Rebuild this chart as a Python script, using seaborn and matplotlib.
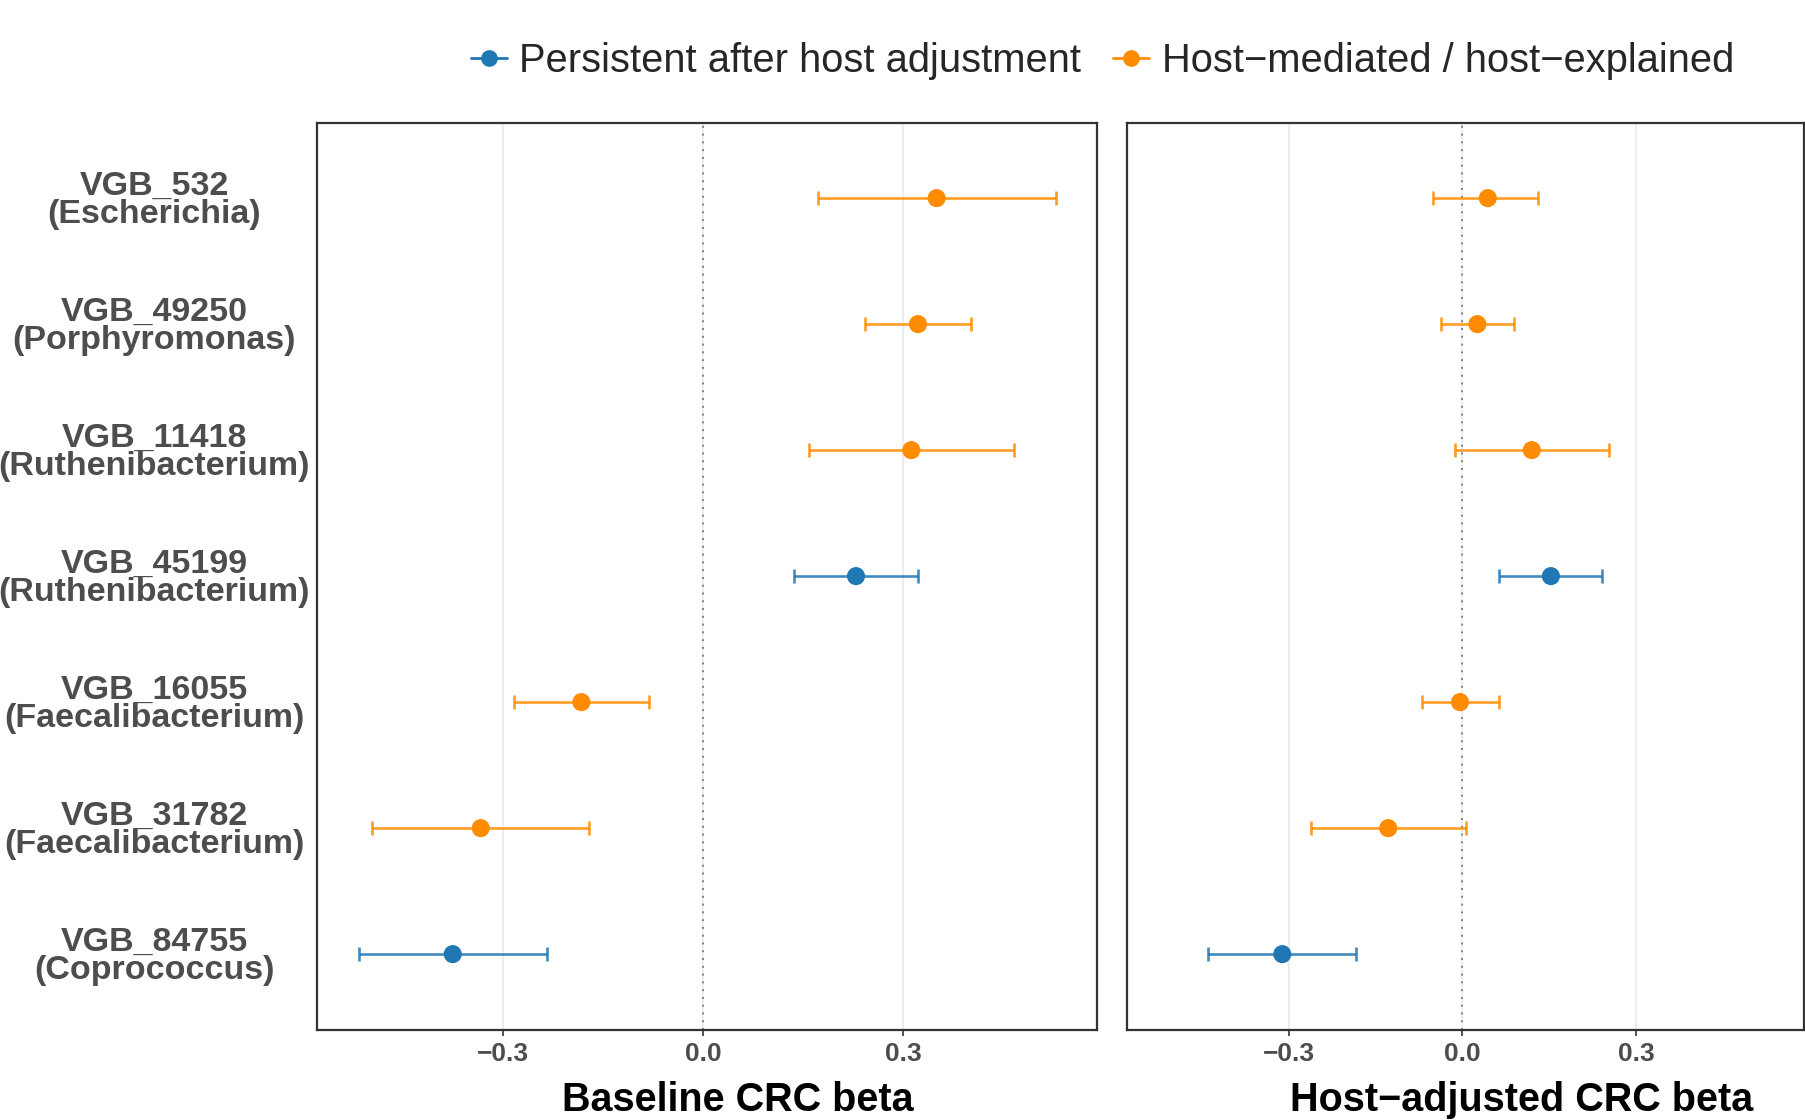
import numpy as np
import pandas as pd
import matplotlib
matplotlib.use("Agg")
import matplotlib.pyplot as plt
import seaborn as sns
from matplotlib.lines import Line2D

# ==============================================================
# DATA
# ==============================================================

vgb_ids = ["VGB_532", "VGB_49250", "VGB_11418", "VGB_45199",
           "VGB_16055", "VGB_31782", "VGB_84755"]
genera = ["Escherichia", "Porphyromonas", "Ruthenibacterium", "Ruthenibacterium",
          "Faecalibacterium", "Faecalibacterium", "Coprococcus"]
status = ["Host\u2212mediated / host\u2212explained"] * 3 + \
         ["Persistent after host adjustment"] + \
         ["Host\u2212mediated / host\u2212explained"] * 2 + \
         ["Persistent after host adjustment"]

base_beta = [0.350, 0.322, 0.312, 0.229, -0.183, -0.334, -0.376]
base_lo = [0.172, 0.243, 0.159, 0.136, -0.284, -0.497, -0.516]
base_hi = [0.529, 0.402, 0.466, 0.322, -0.081, -0.172, -0.234]

adj_beta = [0.044, 0.026, 0.120, 0.153, -0.004, -0.128, -0.311]
adj_lo = [-0.050, -0.036, -0.012, 0.064, -0.070, -0.261, -0.439]
adj_hi = [0.130, 0.090, 0.253, 0.241, 0.064, 0.006, -0.183]

status_order = ["Persistent after host adjustment",
                "Host\u2212mediated / host\u2212explained"]
palette = {status_order[0]: "#1f77b4", status_order[1]: "#ff8c00"}

x_ticks = [-0.3, 0.0, 0.3]
x_tick_labels = ["\u22120.3", "0.0", "0.3"]
panel_titles = ["Baseline CRC beta", "Host\u2212adjusted CRC beta"]

# ==============================================================
# BUILD LONG TABLE
# ==============================================================

n = len(vgb_ids)
row_pos = np.arange(n)[::-1]          # first taxon on top
labels = [f"{v}\n({g})" for v, g in zip(vgb_ids, genera)]

df = pd.concat([
    pd.DataFrame({"row": row_pos, "status": status, "beta": base_beta,
                  "lo": base_lo, "hi": base_hi, "panel": "baseline"}),
    pd.DataFrame({"row": row_pos, "status": status, "beta": adj_beta,
                  "lo": adj_lo, "hi": adj_hi, "panel": "adjusted"}),
])

# ==============================================================
# PLOT
# ==============================================================

sns.set_theme(style="white")
plt.rcParams["font.family"] = ["Liberation Sans", "DejaVu Sans"]

fig = plt.figure(figsize=(18.06, 11.2), dpi=100)
ax_l = fig.add_axes([0.1754, 0.0806, 0.4318, 0.810])
ax_r = fig.add_axes([0.6238, 0.0806, 0.3750, 0.810])

for ax, panel, title, lab_x in [(ax_l, "baseline", panel_titles[0], 0.540),
                                (ax_r, "adjusted", panel_titles[1], 0.583)]:
    sub = df[df["panel"] == panel]

    ax.axvline(0, color="#7f7f7f", ls=(0, (1, 3)), lw=1.4, zorder=1)

    for st in status_order:
        g = sub[sub["status"] == st]
        ax.errorbar(g["beta"], g["row"],
                    xerr=[g["beta"] - g["lo"], g["hi"] - g["beta"]],
                    fmt="none", ecolor=palette[st], alpha=0.85,
                    elinewidth=1.9, capsize=5, capthick=1.9, zorder=2)

    sns.scatterplot(data=sub, x="beta", y="row", hue="status",
                    hue_order=status_order, palette=palette, s=170,
                    linewidth=0, legend=False, ax=ax, zorder=3)

    ax.set_xlim(-0.58, 0.59)
    ax.set_ylim(-0.6, n - 0.4)
    ax.set_xticks(x_ticks)
    ax.set_xticklabels(x_tick_labels, fontsize=19, fontweight="bold",
                       color="#4d4d4d")
    ax.grid(axis="x", color="#ebebeb", lw=1.2)
    ax.grid(axis="y", visible=False)
    ax.tick_params(axis="x", length=4, width=1.2, color="#333333", pad=5,
                   bottom=True)

    for sp in ax.spines.values():
        sp.set_color("#333333")
        sp.set_linewidth(1.6)

    ax.set_xlabel(title, fontsize=28.5, fontweight="bold", color="black")
    ax.xaxis.label.set_va("baseline")
    ax.xaxis.set_label_coords(lab_x, -0.090)
    ax.set_ylabel("")

ax_l.set_yticks(row_pos)
ax_l.set_yticklabels(labels, fontsize=24.5, fontweight="bold",
                     color="#4d4d4d", ha="center", linespacing=0.9)
ax_l.tick_params(axis="y", length=0, pad=117)

ax_r.set_yticks(row_pos)
ax_r.set_yticklabels([])
ax_r.tick_params(axis="y", length=0)

handles = [Line2D([0], [0], color=palette[s], marker="o", markersize=11, lw=2)
           for s in status_order]
fig.legend(handles, status_order, loc="center",
           bbox_to_anchor=(0.6105, 0.9455), ncol=2, frameon=False,
           fontsize=28.7, handlelength=0.9, handletextpad=0.32,
           columnspacing=0.8, borderpad=0, borderaxespad=0)

fig.savefig("out.png", dpi=100)
